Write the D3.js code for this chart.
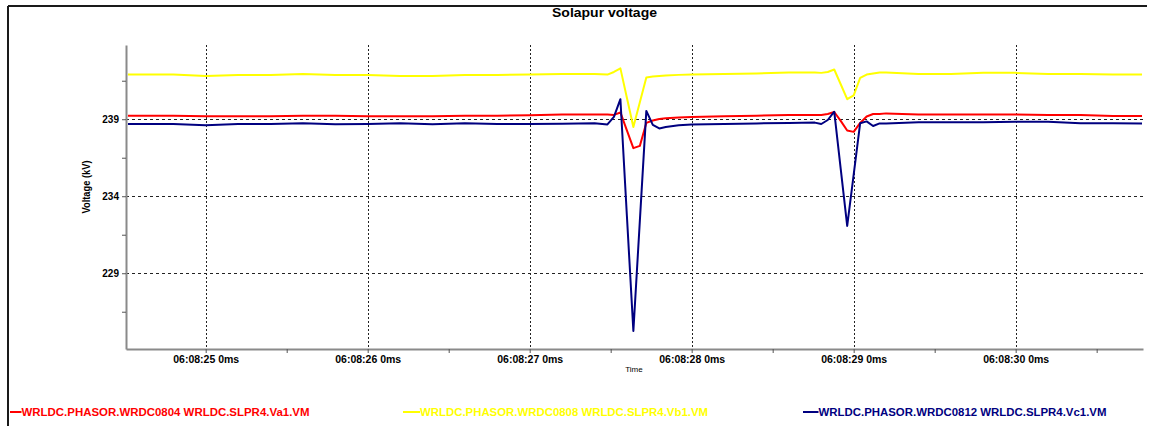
<!DOCTYPE html>
<html>
<head>
<meta charset="utf-8">
<script src="https://cdn.jsdelivr.net/npm/d3@7"></script>
<style>
  html, body { margin: 0; padding: 0; background: #ffffff; }
  svg { display: block; }
  text { font-family: "Liberation Sans", Arial, sans-serif; }
</style>
</head>
<body>
<script>
// ---------------- data (seconds after 06:08:00) ----------------
const timeSec = [24.52, 24.60, 24.80, 25.00, 25.20, 25.40, 25.60, 25.80, 26.00, 26.20,
  26.40, 26.60, 26.80, 27.00, 27.20, 27.40, 27.48, 27.52, 27.56, 27.60,
  27.64, 27.68, 27.72, 27.76, 27.80, 27.84, 27.92, 28.00, 28.20, 28.40,
  28.60, 28.76, 28.80, 28.84, 28.88, 28.92, 28.96, 29.00, 29.04, 29.08,
  29.12, 29.16, 29.20, 29.40, 29.60, 29.80, 30.00, 30.20, 30.40, 30.60, 30.78];

const va = [239.23, 239.23, 239.23, 239.19, 239.19, 239.19, 239.23, 239.23, 239.19, 239.19,
  239.19, 239.23, 239.23, 239.26, 239.30, 239.30, 239.30, 239.28, 239.44, 238.28,
  237.12, 237.27, 238.76, 238.92, 239.02, 239.06, 239.12, 239.15, 239.19, 239.23,
  239.28, 239.28, 239.28, 239.34, 239.47, 238.89, 238.27, 238.18, 238.76, 239.18,
  239.34, 239.34, 239.38, 239.31, 239.31, 239.31, 239.31, 239.28, 239.28, 239.21, 239.21];

const vb = [241.90, 241.90, 241.90, 241.81, 241.88, 241.88, 241.94, 241.88, 241.88, 241.81,
  241.81, 241.88, 241.88, 241.91, 241.94, 241.94, 241.90, 242.07, 242.30, 240.40,
  238.50, 240.10, 241.71, 241.78, 241.81, 241.84, 241.88, 241.91, 241.94, 241.97,
  242.04, 242.03, 242.01, 242.07, 242.23, 241.27, 240.30, 240.55, 241.68, 241.90,
  241.97, 242.03, 242.03, 241.94, 241.94, 242.01, 242.01, 241.94, 241.94, 241.90, 241.90];

const vc = [238.69, 238.69, 238.69, 238.61, 238.69, 238.69, 238.74, 238.68, 238.69, 238.74,
  238.68, 238.74, 238.69, 238.69, 238.71, 238.74, 238.66, 239.15, 240.30, 232.73,
  225.25, 232.40, 239.54, 238.63, 238.40, 238.50, 238.61, 238.65, 238.69, 238.73,
  238.76, 238.78, 238.69, 238.95, 239.49, 235.78, 232.07, 235.40, 238.74, 238.86,
  238.56, 238.73, 238.73, 238.81, 238.81, 238.81, 238.84, 238.84, 238.74, 238.74, 238.73];

const seriesNames = [
  "WRLDC.PHASOR.WRDC0804 WRLDC.SLPR4.Va1.VM",
  "WRLDC.PHASOR.WRDC0808 WRLDC.SLPR4.Vb1.VM",
  "WRLDC.PHASOR.WRDC0812 WRLDC.SLPR4.Vc1.VM"
];
const seriesColors = ["#ff0000", "#ffff00", "#000080"];

const yTickValues = [241.5, 239, 236.5, 234, 231.5, 229, 226.5];
const yLabelled = [239, 234, 229];
const xMajorSec = [25, 26, 27, 28, 29, 30];
const xMinorSec = [25.5, 26.5, 27.5, 28.5, 29.5, 30.5];
const xDomainSec = [24.508, 30.786];
const yDomain = [224.08, 243.82];

const titleText = "Solapur voltage";
const yAxisTitle = "Voltage (kV)";
const xAxisTitle = "Time";

// ---------------- layout ----------------
const W = 1156, H = 426;
const L = 126, R = 1143, T = 45, B = 349;

const base = new Date(2020, 0, 1, 6, 8, 0, 0);
const toDate = s => new Date(base.getTime() + Math.round(s * 1000));

const svg = d3.select("body").append("svg").attr("width", W).attr("height", H);

// frame (top + left visible)
svg.append("line").attr("x1", 8).attr("y1", 6).attr("x2", 1147).attr("y2", 6)
  .attr("stroke", "#1a1a1a").attr("stroke-width", 2);
svg.append("line").attr("x1", 8).attr("y1", 6).attr("x2", 8).attr("y2", H)
  .attr("stroke", "#1a1a1a").attr("stroke-width", 2);

const x = d3.scaleTime().domain(xDomainSec.map(toDate)).range([L, R]);
const y = d3.scaleLinear().domain(yDomain).range([B, T]);

// title
svg.append("text").attr("x", 604.5).attr("y", 17).attr("text-anchor", "middle")
  .attr("font-size", 13).attr("font-weight", "bold").attr("fill", "#000")
  .attr("textLength", 105).attr("lengthAdjust", "spacingAndGlyphs")
  .text(titleText);

// grid
const grid = svg.append("g");
grid.selectAll("line.hg").data(yLabelled).join("line")
  .attr("x1", L).attr("x2", R)
  .attr("y1", d => Math.round(y(d)) + 0.5).attr("y2", d => Math.round(y(d)) + 0.5)
  .attr("stroke", "#222").attr("stroke-width", 1).attr("stroke-dasharray", "3,3");
grid.selectAll("line.vg").data(xMajorSec).join("line")
  .attr("x1", d => Math.round(x(toDate(d))) + 0.5).attr("x2", d => Math.round(x(toDate(d))) + 0.5)
  .attr("y1", T).attr("y2", B)
  .attr("stroke", "#222").attr("stroke-width", 1).attr("stroke-dasharray", "2,2");

// series
const series = [va, vb, vc];
const line = d3.line().x(d => x(toDate(d[0]))).y(d => y(d[1]));
series.forEach((vals, i) => {
  const pts = timeSec.map((t, j) => [t, vals[j]]);
  svg.append("path").datum(pts)
    .attr("fill", "none").attr("stroke", seriesColors[i])
    .attr("stroke-width", 2).attr("stroke-linejoin", "round")
    .attr("d", line);
});

// axes
const fmt = d3.timeFormat("%H:%M:%S");
const xAxis = d3.axisBottom(x)
  .tickValues(xMajorSec.concat(xMinorSec).map(toDate))
  .tickSize(4).tickSizeOuter(0).tickPadding(3)
  .tickFormat(d => (d.getSeconds() + d.getMilliseconds() / 1000) % 1 === 0
    ? fmt(d) + " " + d.getMilliseconds() + "ms" : "");
const gx = svg.append("g").attr("transform", `translate(0,${B})`).call(xAxis);
gx.select(".domain").attr("stroke", "#8a8a8a").attr("stroke-width", 2);
gx.selectAll(".tick line").attr("stroke", "#555");
gx.selectAll(".tick text").attr("font-size", 10.5).attr("font-weight", "bold")
  .attr("fill", "#000").attr("font-family", "Liberation Sans, Arial, sans-serif");

const yAxis = d3.axisLeft(y).tickValues(yTickValues)
  .tickSize(4).tickSizeOuter(0).tickPadding(3)
  .tickFormat(d => yLabelled.includes(d) ? d3.format("d")(d) : "");
const gy = svg.append("g").attr("transform", `translate(${L},0)`).call(yAxis);
gy.select(".domain").attr("stroke", "#8a8a8a").attr("stroke-width", 2);
gy.selectAll(".tick line").attr("stroke", "#555");
gy.selectAll(".tick text").attr("font-size", 10).attr("font-weight", "bold")
  .attr("fill", "#000").attr("font-family", "Liberation Sans, Arial, sans-serif");

// axis titles
svg.append("text").attr("transform", "translate(90,187) rotate(-90)")
  .attr("text-anchor", "middle").attr("font-size", 10.5).attr("font-weight", "bold")
  .attr("fill", "#000").attr("textLength", 53).attr("lengthAdjust", "spacingAndGlyphs")
  .text(yAxisTitle);
svg.append("text").attr("x", 634).attr("y", 372).attr("text-anchor", "middle")
  .attr("font-size", 8).attr("fill", "#000").text(xAxisTitle);

// legend
const legendPos = [[10, 21.5], [403, 420], [803, 818.5]];
seriesNames.forEach((name, i) => {
  const [x0, x1] = legendPos[i];
  svg.append("line").attr("x1", x0).attr("x2", x1).attr("y1", 412).attr("y2", 412)
    .attr("stroke", seriesColors[i]).attr("stroke-width", 2);
  svg.append("text").attr("x", x1).attr("y", 415.8)
    .attr("font-size", 10).attr("font-weight", "bold").attr("fill", seriesColors[i])
    .attr("textLength", 288).attr("lengthAdjust", "spacingAndGlyphs")
    .text(name);
});
</script>
</body>
</html>
